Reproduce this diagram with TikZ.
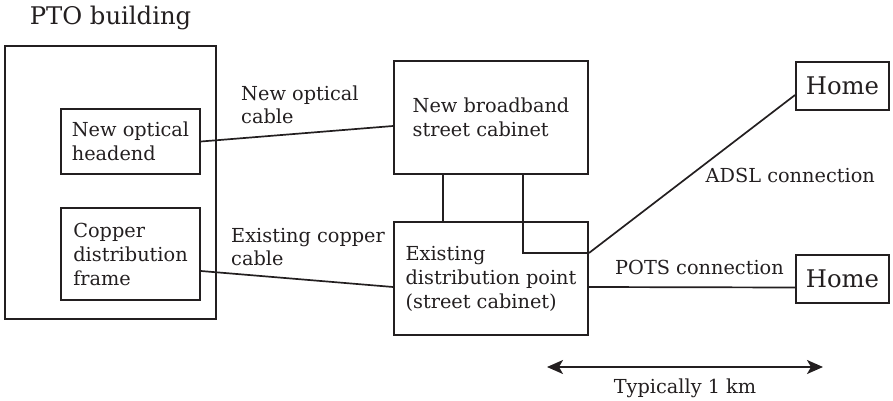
\documentclass[tikz,border=0pt]{standalone}
\usepackage{fontspec}
\setmainfont{DejaVu Serif}
\usetikzlibrary{arrows.meta}
\definecolor{ink}{HTML}{231F20}
\begin{document}
\begin{tikzpicture}[x=1pt,y=-1pt,
  box/.style={draw=ink, line width=1.9pt, align=left, inner sep=0pt, text=ink,
    font=\fontsize{19.3}{24}\selectfont},
  big/.style={font=\fontsize{24.3}{29}\selectfont},
  lbl/.style={font=\fontsize{19.3}{23}\selectfont, text=ink, align=left, inner sep=0pt},
  wire/.style={draw=ink, line width=1.7pt}]
\useasboundingbox (0,0) rectangle (893,401);
% boxes
\node[box, minimum width=211pt, minimum height=273pt] (pto) at (110.5,182.5) {};
\node[lbl, big, anchor=base] (ptolbl) at (110.5,25) {PTO building};
\node[box, minimum width=139pt, minimum height=65pt] (head) at (130.5,141.5) {New optical\\headend};
\node[box, minimum width=139pt, minimum height=92pt] (copper) at (130.5,254) {Copper\\distribution\\frame};
\node[box, minimum width=194pt, minimum height=113pt] (bb) at (491,117.5) {New broadband\\street cabinet};
\node[box, minimum width=194pt, minimum height=113pt] (ex) at (491,278.5) {Existing\\distribution point\\(street cabinet)};
\node[box, big, minimum width=93pt, minimum height=48pt] (h1) at (842.5,86) {Home};
\node[box, big, minimum width=93pt, minimum height=48pt] (h2) at (842.5,279) {Home};
% connectors
\draw[wire] (head.east) -- ([yshift=-8.5pt]bb.west);
\draw[wire] ([yshift=-17pt]copper.east) -- ([yshift=-8.5pt]ex.west);
\draw[wire] ([xshift=-48pt]bb.south) -- ([xshift=-48pt]ex.north);
\coordinate (adsl) at ([yshift=25.5pt]ex.east);
\draw[wire] ([xshift=32pt]bb.south) |- (adsl);
\draw[wire] (adsl) -- ([yshift=-9pt]h1.west);
\draw[wire] ([yshift=-8.5pt]ex.east) -- ([yshift=-8.5pt]h2.west);
% labels (base anchor = baseline of last line)
\node[lbl, anchor=base west] (optlbl) at (241,123) {New optical\\cable};
\node[lbl, anchor=base west] (cuLbl) at (231,265) {Existing copper\\cable};
\node[lbl, anchor=base east] (adsllbl) at (875,182) {ADSL connection};
\node[lbl, anchor=base west] (potslbl) at (615,274) {POTS connection};
% distance arrow
\coordinate (dl) at (547,367);
\coordinate (dr) at (823,367);
\draw[wire, {Stealth[length=16pt,width=14pt,inset=4pt]}-{Stealth[length=16pt,width=14pt,inset=4pt]}] (dl) -- (dr);
\node[lbl, anchor=base] (kmlbl) at (685,393) {Typically 1 km};
\end{tikzpicture}
\end{document}
